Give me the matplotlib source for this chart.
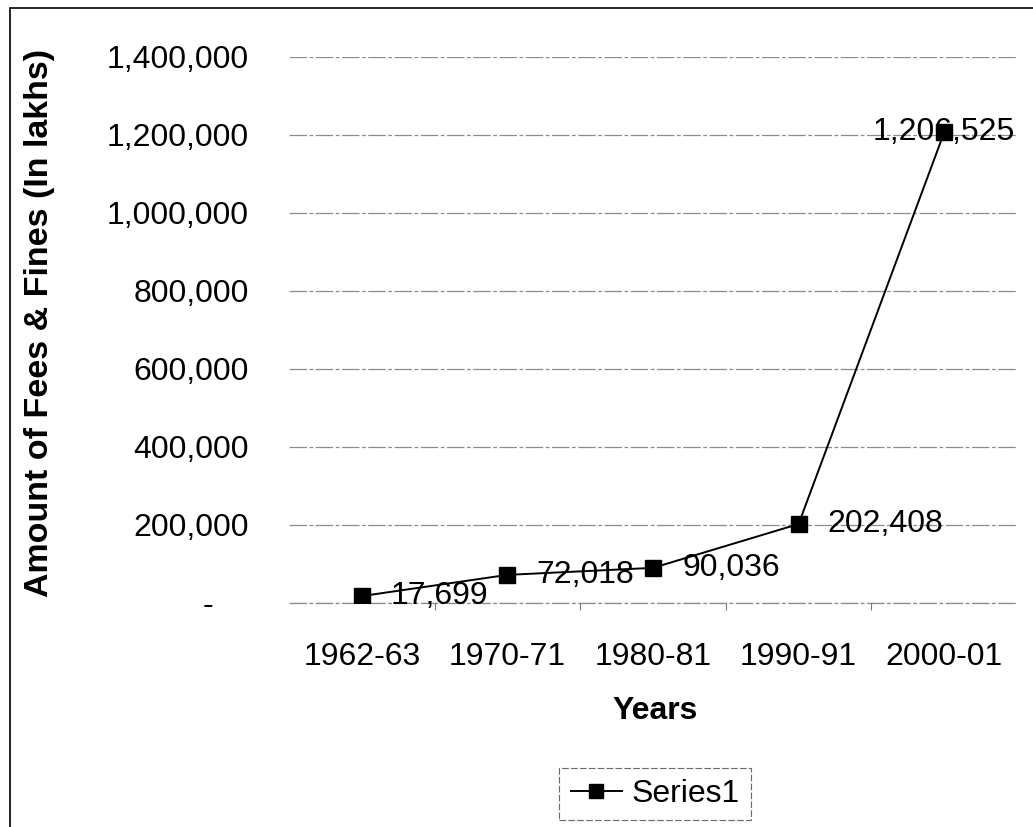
import matplotlib.pyplot as plt
from matplotlib.patches import Rectangle
from matplotlib.ticker import FuncFormatter

years = ["1962-63", "1970-71", "1980-81", "1990-91", "2000-01"]
amounts = [17699, 72018, 90036, 202408, 1206525]
y_ticks = [0, 200000, 400000, 600000, 800000, 1000000, 1200000, 1400000]

plt.rcParams['font.family'] = ['Liberation Sans', 'DejaVu Sans']

fig = plt.figure(figsize=(10.33, 8.27), dpi=100)
ax = fig.add_axes([0.2798, 0.2709, 0.7047, 0.6602])

x = list(range(len(years)))
ax.plot(x, amounts, color='black', linewidth=1.4, marker='s', markersize=11,
        markerfacecolor='black', markeredgecolor='black', label='Series1', zorder=3)

# data labels, right of the marker (last one centred, Excel pushes it in)
for i, v in enumerate(amounts):
    if i == len(amounts) - 1:
        ax.annotate(f"{v:,}", (i, v), ha='center', va='center', fontsize=23, zorder=2)
    else:
        ax.annotate(f"{v:,}", (i, v), xytext=(21, 0), textcoords='offset points',
                    ha='left', va='center', fontsize=23, zorder=2)

ax.set_xlim(-0.5, len(years) - 0.5)
ax.set_ylim(0, 1400000)
ax.set_xticks(x)
ax.set_xticklabels(years)
ax.set_xticks([i + 0.5 for i in range(len(years) - 1)], minor=True)
ax.set_yticks(y_ticks)
ax.yaxis.set_major_formatter(FuncFormatter(lambda v, p: "-    " if v == 0 else f"{int(v):,}"))

ax.tick_params(axis='y', length=0, pad=29, labelsize=23)
ax.tick_params(axis='x', which='major', length=0, pad=28, labelsize=23)
ax.tick_params(axis='x', which='minor', length=5, width=0.8, color='#777777', direction='out')

for s in ax.spines.values():
    s.set_visible(False)
ax.grid(axis='y', color='#666666', linewidth=0.9, linestyle=(0, (14, 2, 3, 2)), alpha=0.75)
ax.axhline(0, color='#666666', linewidth=0.9, linestyle=(0, (14, 2, 3, 2)), alpha=0.75,
           clip_on=False, zorder=1)
ax.set_axisbelow(True)

fig.text(40 / 1033, 1 - 323 / 827, "Amount of Fees & Fines (In lakhs)", rotation=90,
         ha='center', va='center', fontsize=24.5, fontweight='bold')
fig.text(655 / 1033, 1 - 711 / 827, "Years", ha='center', va='center',
         fontsize=23, fontweight='bold')

leg = fig.legend(loc='center', bbox_to_anchor=(655 / 1033, 1 - 794 / 827), fontsize=23,
                 frameon=True, fancybox=False, handlelength=1.6, handletextpad=0.3,
                 borderpad=0.35, markerscale=0.9)
leg.get_frame().set_edgecolor('#444444')
leg.get_frame().set_linewidth(0.8)
leg.get_frame().set_linestyle((0, (6, 2)))

# outer chart border (cut by the scan at right and bottom)
fig.patches.append(Rectangle((10 / 1033, -0.05), 1.1, 1 - 8 / 827 + 0.05,
                             transform=fig.transFigure, fill=False,
                             edgecolor='black', linewidth=1.2))

fig.savefig("out.png", dpi=100)
